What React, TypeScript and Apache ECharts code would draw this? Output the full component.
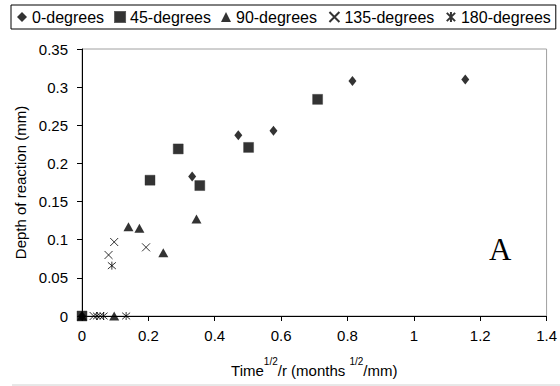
import React, { useEffect, useRef } from "react";
import * as echarts from "echarts";

const seriesNames = ["0-degrees", "45-degrees", "90-degrees", "135-degrees", "180-degrees"];

const deg0: number[][] = [
  [0, 0], [0.332, 0.183], [0.471, 0.237], [0.577, 0.243], [0.815, 0.308], [1.155, 0.31],
];
const deg45: number[][] = [
  [0, 0], [0.205, 0.178], [0.29, 0.219], [0.355, 0.171], [0.502, 0.221], [0.71, 0.284],
];
const deg90: number[][] = [
  [0, 0], [0.097, 0], [0.14, 0.117], [0.173, 0.115], [0.245, 0.083], [0.345, 0.127],
];
const deg135: number[][] = [
  [0.035, 0], [0.055, 0], [0.08, 0.08], [0.097, 0.097], [0.193, 0.09],
];
const deg180: number[][] = [
  [0.045, 0], [0.065, 0], [0.09, 0.066], [0.133, 0],
];

const X_PATH = "path://M0,0L10,10M10,0L0,10";
const STAR_PATH = "path://M0,0L10,10M10,0L0,10M5,-1L5,11";

const FONT = "Liberation Sans, Arial, sans-serif";

export default function App() {
  const ref = useRef<HTMLDivElement>(null);
  useEffect(() => {
    if (!ref.current) return;
    const chart = echarts.init(ref.current, undefined, { renderer: "svg" });
    const option: any = {
      animation: false,
      backgroundColor: "#fff",
      textStyle: { fontFamily: FONT, color: "#000" },
      legend: {
        left: 11,
        top: 5,
        orient: "horizontal",
        padding: [4, 5, 4, 6],
        itemGap: 10,
        itemWidth: 10,
        itemHeight: 10,
        borderColor: "#000",
        borderWidth: 1,
        textStyle: { fontFamily: FONT, fontSize: 16, color: "#000" },
        data: seriesNames,
      },
      grid: {
        left: 82,
        right: 13,
        top: 49,
        bottom: 70,
        show: true,
        borderColor: "#a0a0a0",
        borderWidth: 1,
        backgroundColor: "#fff",
      },
      xAxis: {
        type: "value",
        min: 0,
        max: 1.4,
        interval: 0.2,
        axisLine: { show: true, lineStyle: { color: "#000", width: 1 } },
        axisTick: { show: true, length: 5, lineStyle: { color: "#000" } },
        splitLine: { show: false },
        axisLabel: { fontFamily: FONT, fontSize: 15, color: "#000", margin: 12 },
        name: "{n|Time}{sup|1/2}{n|/r (months }{sup|1/2}{n|/mm)}",
        nameLocation: "middle",
        nameGap: 40,
        nameTextStyle: {
          fontFamily: FONT,
          fontSize: 15,
          color: "#000",
          rich: {
            n: { fontFamily: FONT, fontSize: 15, lineHeight: 22, verticalAlign: "bottom", color: "#000" },
            sup: { fontFamily: FONT, fontSize: 10, lineHeight: 12, verticalAlign: "top", color: "#000" },
          },
        },
      },
      yAxis: {
        type: "value",
        min: 0,
        max: 0.35,
        interval: 0.05,
        axisLine: { show: true, lineStyle: { color: "#000", width: 1 } },
        axisTick: { show: true, length: 5, lineStyle: { color: "#000" } },
        splitLine: { show: false },
        axisLabel: { fontFamily: FONT, fontSize: 15, color: "#000", margin: 14 },
        name: "Depth of reaction (mm)",
        nameLocation: "middle",
        nameGap: 52,
        nameTextStyle: { fontFamily: FONT, fontSize: 15, color: "#000" },
      },
      series: [
        {
          name: seriesNames[0],
          type: "scatter",
          data: deg0,
          symbol: "diamond",
          symbolSize: [8, 10],
          itemStyle: { color: "#000" },
        },
        {
          name: seriesNames[1],
          type: "scatter",
          data: deg45,
          symbol: "rect",
          symbolSize: 10,
          itemStyle: { color: "#000", borderColor: "#333", borderWidth: 0.5 },
        },
        {
          name: seriesNames[2],
          type: "scatter",
          data: deg90,
          symbol: "triangle",
          symbolSize: [10, 9],
          itemStyle: { color: "#000" },
        },
        {
          name: seriesNames[3],
          type: "scatter",
          data: deg135,
          symbol: X_PATH,
          symbolSize: 8,
          itemStyle: { color: "none", borderColor: "#000", borderWidth: 1 },
        },
        {
          name: seriesNames[4],
          type: "scatter",
          data: deg180,
          symbol: STAR_PATH,
          symbolSize: 8,
          itemStyle: { color: "none", borderColor: "#000", borderWidth: 1 },
        },
      ],
      graphic: [
        {
          type: "text",
          left: 489,
          top: 234,
          style: { text: "A", fontFamily: "Liberation Serif, Times New Roman, serif", fontSize: 31, fill: "#000" },
        },
        {
          type: "line",
          shape: { x1: 12, y1: 385, x2: 560, y2: 385 },
          style: { stroke: "#d0d0d0", lineWidth: 1 },
        },
      ],
    };
    chart.setOption(option);
    return () => chart.dispose();
  }, []);
  return <div ref={ref} style={{ width: 560, height: 386, position: "absolute", left: 0, top: 0 }} />;
}
